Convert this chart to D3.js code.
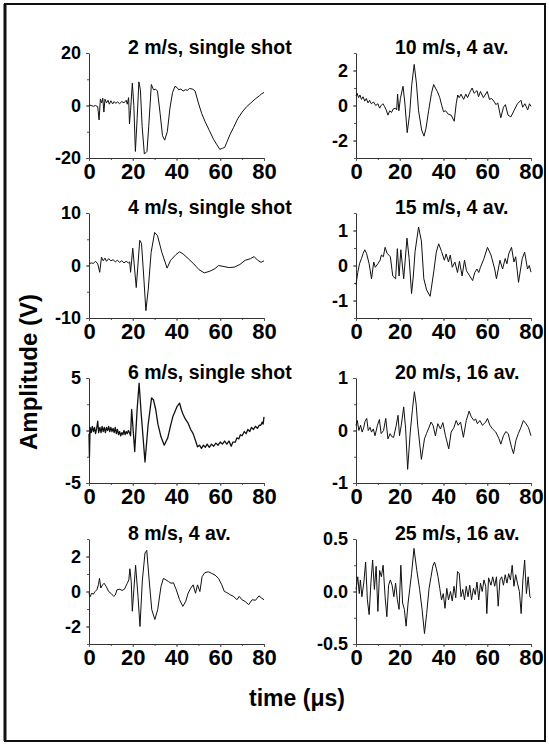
<!DOCTYPE html>
<html>
<head>
<meta charset="utf-8">
<script src="https://cdn.jsdelivr.net/npm/d3@7"></script>
<style>
  body { margin: 0; background: #fff; }
  text { font-family: "Liberation Sans", Arial, sans-serif; font-weight: bold; fill: #000; }
  .xlab text { font-family: "Liberation Sans Narrow", "Arial Narrow", "Liberation Sans", sans-serif; }
</style>
</head>
<body>
<script>
// panel titles, left column then right column, row by row
const titles = [
  "2 m/s, single shot", "10 m/s, 4 av.",
  "4 m/s, single shot", "15 m/s, 4 av.",
  "6 m/s, single shot", "20 m/s, 16 av.",
  "8 m/s, 4 av.", "25 m/s, 16 av."
];
const yLimits = [20, 3, 10, 1.5, 5, 1, 3, 0.5];
const yTicks = [[-20, 0, 20], [-2, 0, 2], [-10, 0, 10], [-1, 0, 1], [-5, 0, 5], [-1, 0, 1], [-2, 0, 2], [-0.5, 0, 0.5]];
const yMinorStep = [10, 1, 5, 0.5, 2.5, 0.5, 1, 0.25];
const xTicks = [0, 20, 40, 60, 80];

// waveforms: [time (us), amplitude (V)]
const wave2 = [[0,0.2],[1,0],[2,-0.3],[3,0],[4,-0.5],[4.6,-5.5],[5.2,2.5],[5.8,1],[6.3,2.8],[6.8,-2.5],[7.3,2.4],[8,1],[8.7,2],[9.3,0.5],[10,1.8],[10.8,0.6],[11.5,1.5],[12.3,0.8],[13,1.4],[14,0.7],[15,1.5],[16,1],[17,2],[17.5,0.5],[18.1,3],[18.5,-7],[19,-2],[19.8,8.5],[20.5,0],[21.2,-17.5],[22,-5],[22.8,9],[23.5,6],[24.3,-8],[25.3,-18.5],[26.5,-17.5],[27.3,-8],[28.5,8],[29.5,6],[30.5,6.2],[31.3,5.5],[32.5,-3],[33.6,-11.5],[34.6,-13.2],[35.8,-10],[37,-1],[38.2,5],[39.3,7.3],[40.3,6.8],[41,6],[42,6.3],[43,5.5],[44,6],[45,5.8],[46,6.5],[47.5,6.2],[48.5,5.5],[50,1],[51.5,-3],[53,-6],[55,-9.5],[57,-13],[58.5,-15],[59.8,-16.7],[61,-16.3],[62,-16],[63,-14],[64.5,-11],[66,-8.5],[68,-5],[70,-2.5],[72,-0.5],[74,1],[76,2.5],[78,3.8],[79,4.5],[80,5]];
const wave10 = [[0,0.55],[0.5,0.7],[1.2,0.45],[1.8,0.6],[2.5,0.35],[3.2,0.5],[4,0.25],[4.7,0.4],[5.5,0.15],[6.2,0.3],[7,0.1],[8,0.2],[9,0],[10,0.1],[10.8,-0.15],[11.5,0],[12.3,0.1],[13,-0.05],[13.8,-0.25],[14.6,-0.55],[15.4,-0.3],[16.2,-0.4],[17,-0.2],[18,-0.15],[18.6,-0.25],[19,0.65],[19.6,-0.3],[20.3,0.4],[21.5,1.1],[22.3,0.2],[23.4,-1.55],[24.5,-0.5],[25.5,1.2],[26.6,2.35],[27.6,1.3],[28.6,-0.3],[30,-1.4],[31.1,-1.75],[32,-1.3],[33.2,-0.3],[34.5,0.7],[35.5,1.2],[36.3,1.0],[37.2,0.8],[38.3,0.45],[39.2,0],[40,-0.35],[41,-0.3],[42.2,-0.5],[43.5,-0.55],[44.9,-0.9],[45.8,0.1],[46.5,0.6],[47.2,0.45],[48,0.65],[49.2,0.35],[50.2,0.65],[51,0.45],[52,0.75],[53.1,1.0],[54,0.7],[55.3,0.85],[56,0.5],[56.9,0.8],[58.2,0.45],[59,0.6],[60,0.8],[61,0.35],[62,0.4],[63,0.25],[64,0.05],[64.8,0.15],[66.2,-0.7],[67.4,-0.1],[68.3,0.05],[69.5,-0.55],[70.8,-0.65],[72.2,-0.3],[73.8,0.1],[75.4,0.3],[76.2,-0.1],[77.2,0.1],[78.5,-0.25],[79.3,0.1],[80,-0.05]];
const wave4 = [[0,0.3],[1,0.5],[2,0.4],[3,0.8],[4,0.3],[4.9,-1.3],[5.7,1.6],[6.5,0.9],[7.3,1.4],[8,0.8],[9,1.3],[10,0.9],[11,1.1],[12,0.7],[13,1.0],[14,0.6],[15,0.9],[16,0.5],[17,0.8],[18,0.5],[18.6,0.7],[19,-1.3],[20,3.3],[21.6,-4.2],[23.2,4.8],[24,4.2],[25,-2],[26,-8.6],[27.1,-4.5],[28.4,2.5],[30,6.3],[31.3,5.7],[33.3,2.5],[35.7,-0.5],[37.3,1],[39.8,2.1],[41.4,2.6],[43,2.2],[45.4,1.3],[47.9,0.3],[50.3,-0.8],[52.7,-1.4],[55.2,-1.1],[57.6,-0.6],[59.2,0],[61.7,-0.2],[64.1,-0.4],[66.5,-0.3],[69,0.2],[71.4,1.0],[73.8,1.3],[75.5,1.7],[77.1,1.0],[78.7,0.6],[80,0.9]];
const wave15 = [[0,-0.55],[0.8,-0.2],[1.6,0.05],[2.5,0.2],[3.3,0.35],[4,0.45],[4.8,0.35],[6,0.05],[7.1,-0.38],[8.1,0.1],[8.8,-0.05],[10,0.05],[11,0.15],[11.6,0.3],[12.5,0.25],[13.3,0.52],[14.2,0.35],[15.7,0.25],[16.8,-0.3],[18.1,-0.38],[18.9,0.48],[19.7,-0.3],[20.5,0.45],[21.8,-0.38],[23.3,0.78],[24.3,0.2],[25.4,-0.8],[26.2,-0.3],[27,0.4],[28.6,1.1],[29.9,0.7],[31,-0.38],[32.3,-0.7],[33.9,-0.88],[35.6,-0.15],[36.7,0.38],[37.8,0.62],[39.1,0.4],[40.4,0.15],[41.2,0.33],[42.3,0.1],[43.1,0.3],[44,-0.05],[45.2,0.1],[46.4,-0.2],[47.3,0.12],[48.5,-0.3],[49.6,0.15],[50.5,-0.15],[52,-0.3],[53.3,-0.43],[54.3,-0.2],[55.3,-0.1],[56.1,-0.2],[56.9,-0.05],[58.5,0.2],[60.1,0.52],[61.7,0.3],[63.4,-0.1],[64.2,-0.38],[65.8,0.15],[67,-0.1],[68.2,0.2],[69,0.05],[69.8,0.33],[71.1,0.52],[72.2,0.1],[73,0.25],[74.3,-0.48],[76,0.2],[77.1,0.38],[78.4,-0.1],[79.2,0],[80,-0.19]];
const wave6 = [[0,-0.3],[0.2,-2.5],[0.5,0.3],[1,-0.2],[1.5,0.4],[2,-0.1],[2.5,0.3],[3,-0.3],[3.5,0.2],[4,0.9],[4.4,-0.2],[5,0.3],[5.5,-0.2],[6,0.4],[6.5,-0.1],[7,0.3],[7.5,-0.2],[8,0.3],[8.5,0],[9,0.4],[9.5,-0.1],[10,0.3],[10.5,-0.1],[11,0.2],[11.5,-0.2],[12,0.3],[12.5,-0.3],[13,0.1],[13.5,-0.4],[14,-0.1],[14.5,-0.5],[15,-0.2],[15.5,-0.4],[16,0],[16.5,-0.4],[17,-0.1],[17.5,-0.3],[18,0],[18.5,-0.2],[19,-0.5],[19.5,2.0],[20.9,-2.0],[22,2.0],[22.9,4.5],[23.9,1.5],[25.6,-3.0],[27,0.5],[28.6,3.1],[29.5,2.9],[30.5,2.0],[31.5,0.6],[32.9,-0.6],[34.4,-1.4],[35.3,-1.0],[36,-0.7],[37.2,0.4],[38.3,1.3],[39.3,1.8],[40.3,2.3],[41.4,2.6],[42.2,2.0],[42.9,1.6],[44,1.1],[45.3,0.7],[46.5,0.1],[47.6,-0.3],[48.6,-0.9],[49.6,-1.55],[50.5,-1.4],[51.4,-1.7],[52.3,-1.4],[53.2,-1.6],[54,-1.3],[55,-1.6],[56,-1.3],[57,-1.5],[58,-1.2],[59,-1.4],[60,-1.1],[61,-1.3],[62,-1.0],[63,-1.3],[64,-1.0],[65,-1.5],[65.8,-1.1],[66.9,-1.1],[67.6,-0.7],[68.5,-0.8],[69.2,-0.4],[70,-0.5],[71,-0.1],[71.8,-0.3],[72.6,0.1],[73.5,-0.1],[74.3,0.3],[75.2,0.1],[76.1,0.4],[77,0.2],[77.8,0.5],[78.5,0.5],[79.2,0.8],[79.6,0.6],[80,1.3]];
const wave20 = [[0,0.1],[0.6,0.19],[1.3,0],[2.1,0.1],[2.8,-0.03],[3.5,0.05],[4.1,0.17],[4.9,0.23],[5.6,0],[6.4,0.06],[7.1,-0.03],[7.9,0.03],[8.7,-0.1],[9.8,0.1],[10.7,0.21],[11.5,-0.06],[12.6,0],[13.6,0.23],[14.6,-0.16],[15.6,-0.06],[16.4,-0.12],[17.2,-0.13],[18.4,0.1],[19.2,0.29],[19.9,-0.1],[20.7,0.1],[21.8,0.45],[22.7,0.03],[23.6,-0.74],[24.8,-0.03],[25.8,0.4],[26.7,0.74],[27.5,0.5],[28.2,0.1],[29.9,-0.55],[31.3,-0.16],[32.2,-0.06],[33.3,0.05],[34.3,0.16],[35.2,0.1],[36.3,-0.1],[37.4,0.13],[38.6,0.03],[39.7,0.15],[40.9,-0.1],[42.4,-0.35],[43.5,-0.03],[44.8,0.06],[45.8,0.19],[46.7,0.1],[47.8,0.16],[49.1,-0.13],[50.4,0.19],[51.7,0.37],[52.7,0.26],[53.9,0.19],[54.7,0.22],[55.5,0.13],[56.6,0.19],[57.8,0.1],[59.3,0.16],[60.1,0.23],[61.2,0.1],[62.4,0.03],[63.9,-0.03],[65.4,-0.16],[66.2,-0.26],[67.4,-0.1],[68.5,-0.02],[69.6,-0.06],[71.1,-0.32],[72,-0.44],[73.1,-0.19],[74.2,-0.06],[75.4,0.06],[76.5,0.19],[77.7,0.13],[78.8,0.06],[80,-0.1]];
const wave8 = [[0,-0.1],[0.5,-0.3],[1.2,-0.1],[2,-0.15],[2.8,0],[3.6,0.1],[4.3,0.38],[4.8,0.75],[5.4,0.2],[6.2,0.38],[6.9,0.47],[7.9,0.28],[9,0],[10,-0.1],[11.3,-0.28],[12,-0.2],[12.8,0.1],[14.1,0.13],[15.1,0.06],[16.2,0.13],[17.5,0.47],[18.2,0.66],[18.7,1.3],[19.3,0.57],[19.8,-1.13],[20.5,0.1],[21.3,1.5],[22.4,-0.28],[23.3,-2.0],[24.4,0.66],[25.6,2.2],[26.4,2.35],[27.5,0.66],[28.7,-1.04],[30.1,-1.6],[31.4,-1.04],[32.9,0.28],[34,0.75],[35.2,0.66],[36.3,0.57],[37.5,0.47],[38.6,0.5],[39.9,0.1],[41.4,-0.47],[42.9,-0.85],[44.2,-0.57],[45.3,-0.1],[46.5,0.19],[47.6,0.38],[48.7,-0.1],[49.6,0.38],[50.7,0],[51.7,0.85],[52.9,1.07],[54.5,1.13],[56,1.04],[57.6,0.94],[59.2,0.75],[60.7,0.38],[61.9,0],[63,-0.06],[64.6,-0.19],[66.1,-0.28],[67.6,-0.47],[68.7,-0.28],[69.9,-0.47],[71.4,-0.57],[73,-0.75],[74.6,-0.47],[76.1,-0.5],[77.7,-0.25],[78.9,-0.38],[80,-0.47]];
const wave25 = [[0,0.02],[0.3,0.06],[0.8,0.14],[1.5,-0.02],[2,0.11],[2.7,-0.05],[3.6,0.09],[4.4,0.28],[5.2,-0.08],[6,-0.22],[6.8,0.08],[7.6,0.3],[8.4,0.02],[9.2,0.24],[10,-0.19],[10.8,0.2],[11.6,0.14],[12.4,0.25],[13.3,-0.05],[14.1,-0.24],[14.9,0.06],[15.7,0.11],[16.5,0.06],[17.3,-0.05],[18.1,0.08],[18.9,-0.08],[19.7,-0.17],[20.5,0.25],[21.3,-0.11],[22.1,-0.17],[22.9,-0.33],[23.8,-0.11],[24.6,0.03],[25.4,0.17],[26.5,0.41],[27.8,0.2],[29.1,0.02],[30.2,-0.17],[31.3,-0.4],[32.3,-0.21],[33.4,0.03],[34.3,0.14],[35.1,0.24],[35.9,0.28],[36.7,0.22],[37.5,0.14],[38.3,0.03],[39.1,-0.08],[39.9,-0.02],[40.7,-0.16],[41.5,0.03],[42.3,-0.08],[43.2,0],[44,-0.09],[44.8,0.05],[45.6,-0.06],[46.4,0.19],[47.2,0.17],[48,-0.05],[48.8,0.02],[49.6,-0.08],[50.4,0.05],[51.2,-0.05],[52,0.06],[52.8,-0.08],[53.7,0.03],[54.5,-0.03],[55.3,0.09],[56.1,-0.08],[56.9,0.08],[57.7,0],[58.5,0.11],[59.3,0.05],[59.8,-0.21],[60.6,0.13],[61.7,0.06],[62.5,0.14],[63.4,0.05],[64.2,0.14],[65,-0.14],[65.8,0.11],[66.6,0.14],[67.4,0.06],[68.2,0.16],[69,0.08],[69.8,0.17],[70.6,0.11],[71.4,0.25],[72.2,0.05],[73,0.16],[73.8,0.08],[74.7,0],[75.5,-0.21],[76.3,0.11],[77.1,0.3],[77.9,-0.02],[78.7,0.14],[79.5,-0.05],[80,-0.06]];
const waves = [wave2, wave10, wave4, wave15, wave6, wave20, wave8, wave25];

const W = 549, H = 746;
const colX = [89, 356];
const rowY = [53, 213, 378, 539];
const plotW = 175, plotH = 105;

const svg = d3.select("body").append("svg")
    .attr("width", W)
    .attr("height", H);

svg.append("rect").attr("width", W).attr("height", H).attr("fill", "#fff");

// outer frame
svg.append("rect")
    .attr("x", 5).attr("y", 4)
    .attr("width", 540).attr("height", 737)
    .attr("fill", "none")
    .attr("stroke", "#111")
    .attr("stroke-width", 2);
svg.append("line")
    .attr("x1", 5).attr("x2", 5).attr("y1", 4).attr("y2", 741)
    .attr("stroke", "#111").attr("stroke-width", 3);

const x = d3.scaleLinear().domain([0, 80]).range([0, plotW]);

waves.forEach((wave, i) => {
    const col = i % 2, row = Math.floor(i / 2);
    const lim = yLimits[i];
    const y = d3.scaleLinear().domain([-lim, lim]).range([plotH, 0]);
    const g = svg.append("g")
        .attr("transform", `translate(${colX[col]},${rowY[row]})`);

    const fmt = lim === 0.5 ? d => d.toFixed(1) : d => String(d);

    // minor ticks
    g.append("g")
        .call(d3.axisLeft(y).tickValues(d3.range(-lim, lim + 1e-9, yMinorStep[i])).tickSize(2).tickFormat(""))
        .call(a => a.select(".domain").remove());
    g.append("g")
        .attr("transform", `translate(0,${plotH})`)
        .call(d3.axisBottom(x).tickValues(d3.range(0, 81, 10)).tickSize(2).tickFormat(""))
        .call(a => a.select(".domain").remove());

    const ya = g.append("g")
        .call(d3.axisLeft(y).tickValues(yTicks[i]).tickSize(3).tickSizeOuter(0).tickPadding(5).tickFormat(fmt));
    ya.selectAll("text").style("font-size", "18px");

    const xa = g.append("g")
        .attr("class", "xlab")
        .attr("transform", `translate(0,${plotH})`)
        .call(d3.axisBottom(x).tickValues(xTicks).tickSize(3).tickSizeOuter(0).tickPadding(2));
    xa.selectAll("text").style("font-size", "22px");

    g.selectAll(".domain").attr("stroke", "#333");
    g.selectAll(".tick line").attr("stroke", "#555");

    g.append("path")
        .datum(wave)
        .attr("fill", "none")
        .attr("stroke", "#111")
        .attr("stroke-width", i === 4 ? 1.3 : 1)
        .attr("stroke-linejoin", "round")
        .attr("d", d3.line().x(d => x(d[0])).y(d => y(d[1])));

    g.append("text")
        .attr("x", 39)
        .attr("y", 1)
        .style("font-size", "19.5px")
        .text(titles[i]);
});

svg.append("text")
    .attr("transform", "translate(37,372) rotate(-90)")
    .attr("text-anchor", "middle")
    .style("font-size", "24px")
    .text("Amplitude (V)");

svg.append("text")
    .attr("x", 297)
    .attr("y", 706)
    .attr("text-anchor", "middle")
    .style("font-size", "23px")
    .text("time (μs)");
</script>
</body>
</html>
